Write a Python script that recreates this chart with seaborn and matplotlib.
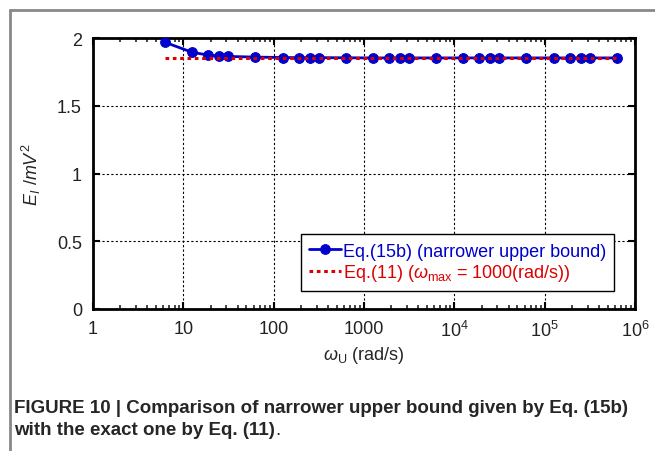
import matplotlib
matplotlib.use("Agg")
import matplotlib.pyplot as plt
import matplotlib.ticker as mticker
from matplotlib.lines import Line2D
import numpy as np
import pandas as pd
import seaborn as sns

# data (omega_U = 2*pi*f)
freq = [1, 2, 3, 4, 5, 10, 20, 30, 40, 50, 100, 200, 300, 400, 500,
        1000, 2000, 3000, 4000, 5000, 10000, 20000, 30000, 40000, 50000, 100000]
e_upper = [1.968, 1.894, 1.874, 1.867, 1.864, 1.859, 1.856, 1.855, 1.855, 1.855,
           1.854, 1.853, 1.853, 1.853, 1.853, 1.853, 1.853, 1.853, 1.853, 1.853,
           1.853, 1.853, 1.853, 1.853, 1.853, 1.853]
e_exact = 1.85
xtick_vals = [1, 10, 100, 1000, 1e4, 1e5, 1e6]
xtick_labels = ["1", "10", "100", "1000", r"$10^4$", r"$10^5$", r"$10^6$"]
ytick_vals = [0, 0.5, 1, 1.5, 2]
ytick_labels = ["0", "0.5", "1", "1.5", "2"]

sns.set_style("ticks")
plt.rcParams['font.family'] = ['Liberation Sans', 'DejaVu Sans']
plt.rcParams['mathtext.fontset'] = 'custom'
plt.rcParams['mathtext.rm'] = 'Liberation Sans'
plt.rcParams['mathtext.it'] = 'Liberation Sans:italic'
plt.rcParams['mathtext.bf'] = 'Liberation Sans:bold'

omega = 2 * np.pi * np.array(freq)
df = pd.DataFrame({"omega": omega, "E": e_upper, "Ex": [e_exact] * len(freq)})

fig = plt.figure(figsize=(6.55, 4.52), dpi=100)
ax = fig.add_axes([93 / 655, 1 - 310 / 452, (635 - 93) / 655, (310 - 39) / 452])

blue = "#0000cc"
red = "#dd0000"
sns.lineplot(data=df, x="omega", y="E", ax=ax, color=blue, lw=2, marker="o",
             markersize=7, markeredgecolor=blue, label="Eq.(15b) (narrower upper bound)", zorder=3)
sns.lineplot(data=df, x="omega", y="Ex", ax=ax, color=red, lw=2.2, linestyle=(0, (1.2, 1.2)),
             label=r"Eq.(11) ($\omega_{\rm max}$ = 1000(rad/s))", zorder=4)

ax.set_xscale("log")
ax.set_xlim(1, 1e6)
ax.set_ylim(0, 2)
ax.xaxis.set_major_locator(mticker.FixedLocator(xtick_vals))
ax.xaxis.set_major_formatter(mticker.FixedFormatter(xtick_labels))
ax.xaxis.set_minor_locator(mticker.LogLocator(base=10, subs=np.arange(2, 10), numticks=20))
ax.xaxis.set_minor_formatter(mticker.NullFormatter())
ax.set_yticks(ytick_vals)
ax.set_yticklabels(ytick_labels)

ax.grid(True, which="major", color="black", linestyle=(0, (2, 2)), lw=0.8)
for s in ax.spines.values():
    s.set_visible(True)
    s.set_linewidth(2)
    s.set_color("black")
ax.tick_params(which="major", direction="in", length=5, width=1.5, top=True, right=True,
               labelsize=13, pad=8, colors="black")
ax.tick_params(which="minor", direction="in", length=3, width=1.2, top=True, right=True)
ax.tick_params(axis="y", which="minor", left=False, right=False)
for lab in ax.get_xticklabels() + ax.get_yticklabels():
    lab.set_color("#222222")

ax.set_xlabel(r"$\omega_{\rm U}$ (rad/s)", fontsize=13, labelpad=3)
ax.set_ylabel(r"$E_I\ /mV^2$", fontsize=13, labelpad=10)

leg = ax.legend(loc="lower right", bbox_to_anchor=(0.962, 0.065), fontsize=13,
                frameon=True, fancybox=False, framealpha=1, edgecolor="black",
                handlelength=1.8, handletextpad=0.1, borderpad=0.45, labelspacing=0.15,
                borderaxespad=0)
leg.get_frame().set_linewidth(1)
for txt, c in zip(leg.get_texts(), [blue, red]):
    txt.set_color(c)

# gray outer frame
fig.add_artist(Line2D([10 / 655, 1], [1 - 11 / 452] * 2, color="#888888", lw=2))
fig.add_artist(Line2D([10 / 655] * 2, [1 - 11 / 452, 0], color="#888888", lw=2))

cap_font = ['Liberation Sans Narrow', 'Liberation Sans', 'DejaVu Sans']
fig.text(14 / 655, 1 - 409 / 452, "FIGURE 10 | Comparison of narrower upper bound given by Eq. (15b)",
         fontsize=13.5, fontweight="bold", family=cap_font, va="center", ha="left")
t2 = fig.text(14 / 655, 1 - 431 / 452, "with the exact one by Eq. (11)",
              fontsize=13.5, fontweight="bold", family=cap_font, va="center", ha="left")
fig.canvas.draw()
bb = t2.get_window_extent()
fig.text(bb.x1 / 655, 1 - 431 / 452, ".", fontsize=13.5, family=cap_font, va="center", ha="left")

fig.savefig("out.png", dpi=100)
